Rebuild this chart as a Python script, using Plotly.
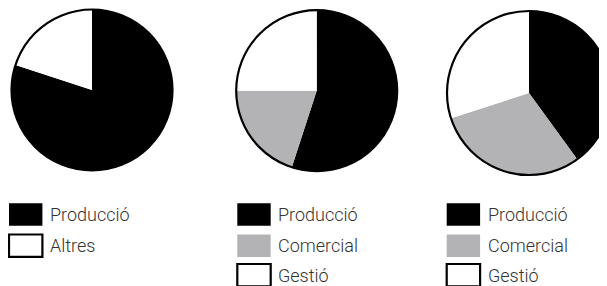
import plotly.graph_objects as go

W, H = 607, 286
OFF = 8  # browser default body margin shifts the figure by 8px

# Data
labels_1 = ["Producció", "Altres"]
values_1 = [80, 20]
colors_1 = ["#000000", "#ffffff"]

labels_2 = ["Producció", "Comercial", "Gestió"]
values_2 = [55, 20, 25]
colors_2 = ["#000000", "#b3b3b5", "#ffffff"]

labels_3 = ["Producció", "Comercial", "Gestió"]
values_3 = [40, 30, 30]
colors_3 = ["#000000", "#b3b3b5", "#ffffff"]

# Layout geometry (screen pixels)
pie_boxes = [  # x0, x1, y0(top), y1(bottom)
    (11.5, 172.5, 9.5, 170.5),
    (236.2, 397.2, 10.2, 171.2),
    (447, 611, 11, 175),
]
legend_x = [9, 237.3, 446.7]
row_y = [203.3, 234.5, 264]
box_w, box_h = 33.4, 22.4
text_dx = 39

def px(x):
    return (x - OFF) / W

def py(y):
    return 1 - (y - OFF) / H

fig = go.Figure()
datasets = [(labels_1, values_1, colors_1), (labels_2, values_2, colors_2), (labels_3, values_3, colors_3)]

shapes = []
annotations = []
for i, ((labs, vals, cols), (x0, x1, y0, y1)) in enumerate(zip(datasets, pie_boxes)):
    dom = dict(x=[max(px(x0), 0), min(px(x1), 1)], y=[max(py(y1), 0), min(py(y0), 1)])
    fig.add_trace(go.Pie(
        labels=labs, values=vals, sort=False, direction="clockwise", rotation=0,
        marker=dict(colors=cols, line=dict(width=0)), textinfo="none",
        domain=dom, showlegend=False,
    ))
    # perimeter outline
    fig.add_trace(go.Pie(
        labels=[""], values=[1], sort=False,
        marker=dict(colors=["rgba(0,0,0,0)"], line=dict(color="#000000", width=2.2)),
        textinfo="none", hoverinfo="skip", domain=dom, showlegend=False,
    ))
    # custom legend
    lx = legend_x[i]
    for j, (lab, col) in enumerate(zip(labs, cols)):
        ty = row_y[j]
        if col.lower() == "#ffffff":
            shapes.append(dict(type="rect", xref="paper", yref="paper",
                               x0=px(lx), x1=px(lx + box_w), y0=py(ty + box_h), y1=py(ty),
                               fillcolor="#ffffff", line=dict(color="#000000", width=2.2)))
        else:
            shapes.append(dict(type="rect", xref="paper", yref="paper",
                               x0=px(lx), x1=px(lx + box_w), y0=py(ty + box_h), y1=py(ty),
                               fillcolor=col, line=dict(width=0)))
        annotations.append(dict(xref="paper", yref="paper", x=px(lx + text_dx), y=py(ty + box_h / 2),
                                xanchor="left", yanchor="middle", showarrow=False, text=lab,
                                font=dict(family="Roboto", size=18, color="#333333", weight=300)))

fig.update_layout(
    width=W, height=H, margin=dict(l=0, r=0, t=0, b=0),
    paper_bgcolor="#ffffff", plot_bgcolor="#ffffff",
    shapes=shapes, annotations=annotations,
)
fig.write_html("out.html")
